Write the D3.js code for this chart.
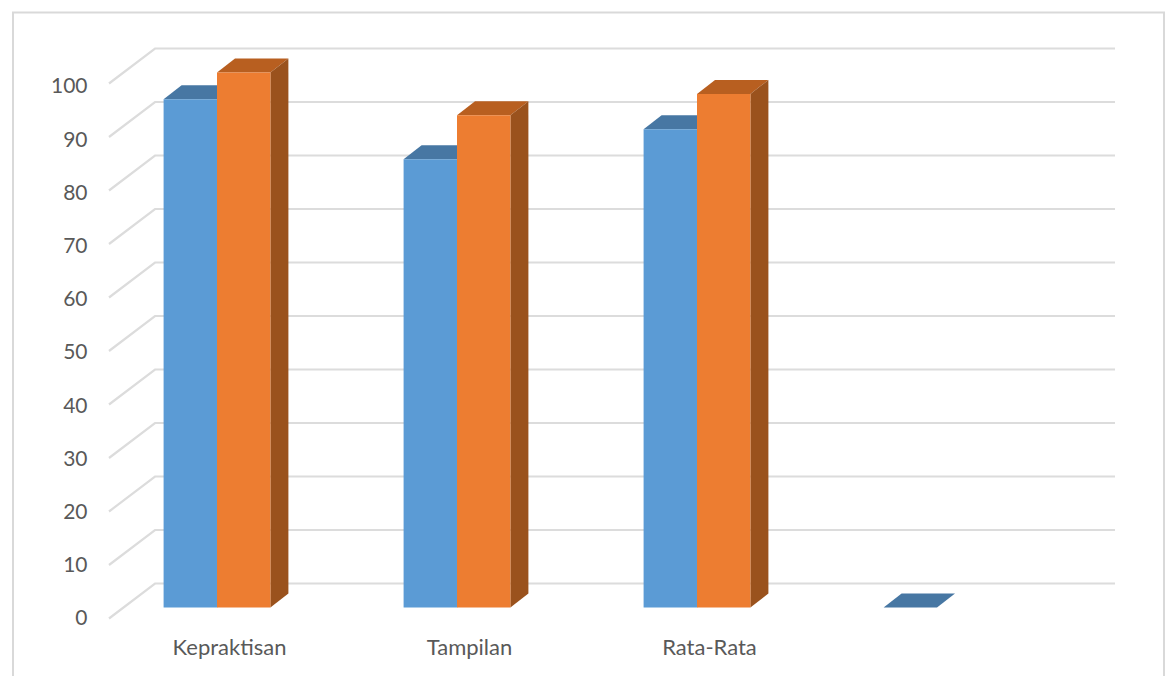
<!DOCTYPE html>
<html>
<head>
<meta charset="utf-8">
<script src="https://cdn.jsdelivr.net/npm/d3@7/dist/d3.min.js"></script>
<style>
  html, body { margin: 0; padding: 0; background: #fff; overflow: hidden; }
  svg { display: block; }
  text { font-family: Lato, "Open Sans", sans-serif; fill: #595959; }
</style>
</head>
<body>
<svg id="chart" width="1170" height="676"></svg>
<script>
// Chart data
const categories = ["Kepraktisan", "Tampilan", "Rata-Rata", ""];
const seriesA = [95, 83.8, 89.4, 0];
const seriesB = [100, 92, 96, null];
const tickValues = [0, 10, 20, 30, 40, 50, 60, 70, 80, 90, 100];

const svg = d3.select("#chart");

// Shear of the 3D projection: wall depth and the shallower bar depth
const wall = { dx: 46, dy: -35 };
const box = { dx: 18, dy: -14 };
const floorFrontY = 618.5, barFrontY = 607.5, unit = 5.35;

// Scales on the plane of the bar fronts, the front wall edge and the value labels
const x = d3.scaleBand().domain(d3.range(categories.length)).range([97, 1057]).paddingInner(0).paddingOuter(0);
const barWidth = 53.4;
const yBar = d3.scaleLinear().domain([0, 100]).range([barFrontY, barFrontY - 100 * unit]);
const yWall = d3.scaleLinear().domain([0, 100]).range([floorFrontY, floorFrontY - 100 * unit]);
const yLabel = d3.scaleLinear().domain([0, 100]).range([620, 88]);

// Outer frame (open at the bottom edge of the page)
svg.append("path")
  .attr("d", d3.line()([[13, 676], [13, 12.5], [1164, 12.5], [1164, 676]]))
  .attr("fill", "none").attr("stroke", "#d9d9d9").attr("stroke-width", 2);

// Gridlines run along the side wall, then along the back wall
const wallLeft = 109, backRight = 1115;
svg.append("g").selectAll("path").data(tickValues).join("path")
  .attr("d", d => d3.line()([
    [wallLeft, yWall(d)],
    [wallLeft + wall.dx, yWall(d) + wall.dy],
    [backRight, yWall(d) + wall.dy]
  ]))
  .attr("fill", "none").attr("stroke", "#dcdcdc").attr("stroke-width", 2.2);

// Value labels
svg.append("g").selectAll("text").data(tickValues).join("text")
  .attr("x", 87.5).attr("y", d => yLabel(d))
  .attr("text-anchor", "end").attr("dominant-baseline", "middle")
  .attr("font-size", 21).text(d => d);

// Category labels
svg.append("g").selectAll("text").data(categories).join("text")
  .attr("x", (d, i) => x(i) + x.bandwidth() / 2 + 12.5).attr("y", 654.5)
  .attr("text-anchor", "middle").attr("font-size", 22).text(d => d);

// One extruded bar: top face, side face, front face
function drawBar(g, left, value, colors) {
  const top = yBar(value), base = yBar(0), right = left + barWidth;
  const face = pts => d3.line()(pts) + "Z";
  g.append("path").attr("fill", colors.top).attr("d", face([
    [left, top], [left + box.dx, top + box.dy], [right + box.dx, top + box.dy], [right, top]
  ]));
  g.append("path").attr("fill", colors.side).attr("d", face([
    [right, top], [right + box.dx, top + box.dy], [right + box.dx, base + box.dy], [right, base]
  ]));
  g.append("path").attr("fill", colors.front).attr("d", face([
    [left, top], [right, top], [right, base], [left, base]
  ]));
}

const blue = { front: "#5b9bd5", top: "#4777a3", side: "#3f6f9b" };
const orange = { front: "#ed7d31", top: "#b85f20", side: "#9a521d" };

const bars = svg.append("g");
categories.forEach((c, i) => {
  const mid = x(i) + x.bandwidth() / 2;
  if (seriesA[i] !== null) drawBar(bars, mid - barWidth, seriesA[i], blue);
  if (seriesB[i] !== null) drawBar(bars, mid, seriesB[i], orange);
});
</script>
</body>
</html>
